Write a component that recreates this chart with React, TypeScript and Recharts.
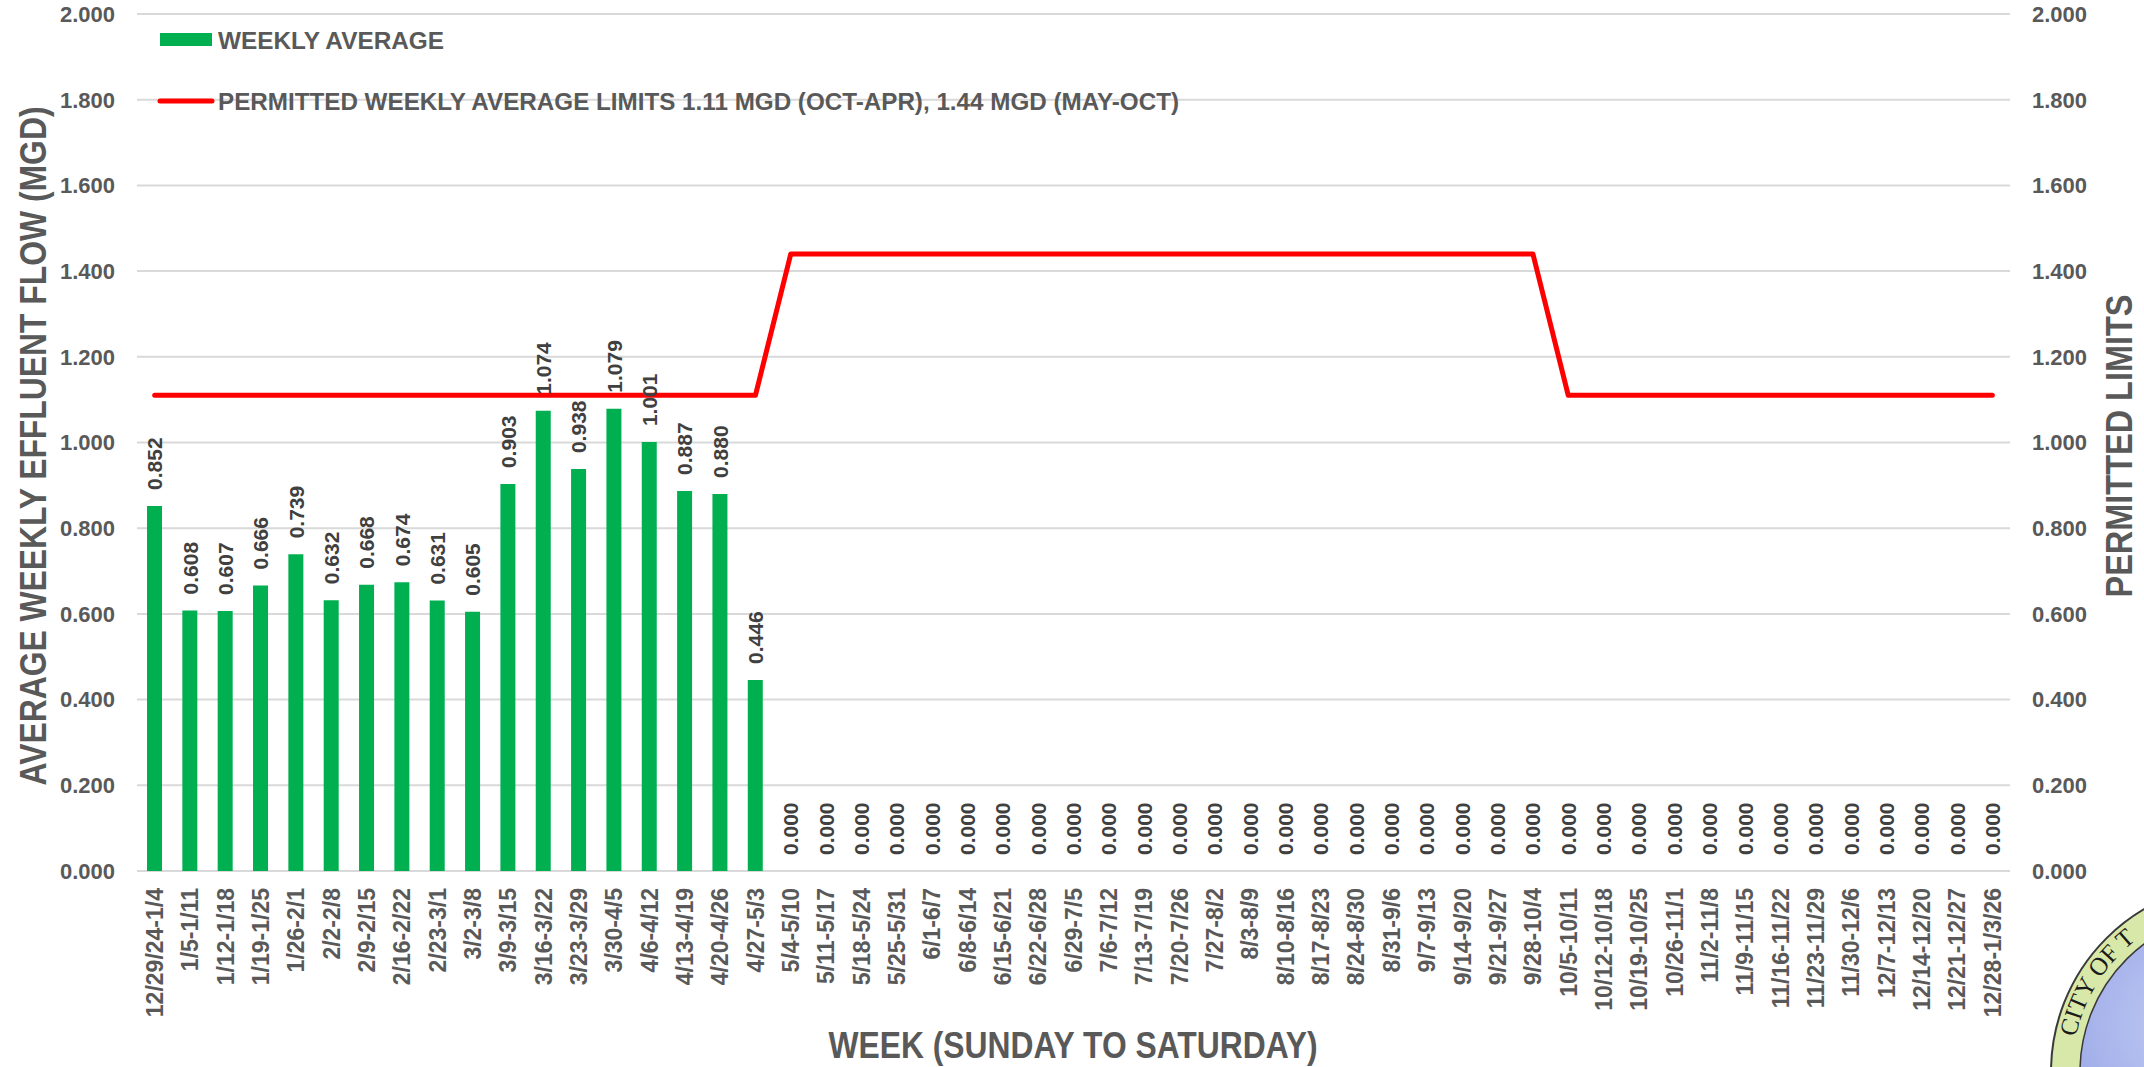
import React from "react";
import {
  ComposedChart,
  Bar,
  Line,
  XAxis,
  YAxis,
  CartesianGrid,
  LabelList,
} from "recharts";

const weeks = [
  "12/29/24-1/4", "1/5-1/11", "1/12-1/18", "1/19-1/25", "1/26-2/1", "2/2-2/8",
  "2/9-2/15", "2/16-2/22", "2/23-3/1", "3/2-3/8", "3/9-3/15", "3/16-3/22",
  "3/23-3/29", "3/30-4/5", "4/6-4/12", "4/13-4/19", "4/20-4/26", "4/27-5/3",
  "5/4-5/10", "5/11-5/17", "5/18-5/24", "5/25-5/31", "6/1-6/7", "6/8-6/14",
  "6/15-6/21", "6/22-6/28", "6/29-7/5", "7/6-7/12", "7/13-7/19", "7/20-7/26",
  "7/27-8/2", "8/3-8/9", "8/10-8/16", "8/17-8/23", "8/24-8/30", "8/31-9/6",
  "9/7-9/13", "9/14-9/20", "9/21-9/27", "9/28-10/4", "10/5-10/11", "10/12-10/18",
  "10/19-10/25", "10/26-11/1", "11/2-11/8", "11/9-11/15", "11/16-11/22",
  "11/23-11/29", "11/30-12/6", "12/7-12/13", "12/14-12/20", "12/21-12/27",
  "12/28-1/3/26",
];

const weeklyAverage = [
  0.852, 0.608, 0.607, 0.666, 0.739, 0.632, 0.668, 0.674, 0.631, 0.605,
  0.903, 1.074, 0.938, 1.079, 1.001, 0.887, 0.880, 0.446,
  0, 0, 0, 0, 0, 0, 0, 0, 0, 0,
  0, 0, 0, 0, 0, 0, 0, 0, 0, 0,
  0, 0, 0, 0, 0, 0, 0, 0, 0, 0,
  0, 0, 0, 0, 0,
];

const permittedLimits = [
  1.11, 1.11, 1.11, 1.11, 1.11, 1.11, 1.11, 1.11, 1.11, 1.11,
  1.11, 1.11, 1.11, 1.11, 1.11, 1.11, 1.11, 1.11,
  1.44, 1.44, 1.44, 1.44, 1.44, 1.44, 1.44, 1.44, 1.44, 1.44, 1.44,
  1.44, 1.44, 1.44, 1.44, 1.44, 1.44, 1.44, 1.44, 1.44, 1.44, 1.44,
  1.11, 1.11, 1.11, 1.11, 1.11, 1.11, 1.11, 1.11, 1.11, 1.11,
  1.11, 1.11, 1.11,
];

const yTicks = [0, 0.2, 0.4, 0.6, 0.8, 1.0, 1.2, 1.4, 1.6, 1.8, 2.0];

const legendItems = [
  "WEEKLY AVERAGE",
  "PERMITTED WEEKLY AVERAGE LIMITS 1.11 MGD (OCT-APR), 1.44 MGD (MAY-OCT)",
];

const data = weeks.map((w, i) => ({
  week: w,
  avg: weeklyAverage[i],
  limit: permittedLimits[i],
}));

const FONT = "'Liberation Sans', Arial, Helvetica, sans-serif";
const GREY = "#595959";
const GREEN = "#00B050";
const RED = "#FF0000";

const XTick = (props: any) => {
  const { x, y, payload } = props;
  return (
    <g transform={`translate(${x},${y})`}>
      <text
        transform="rotate(-90)"
        x={0}
        y={0}
        dy="0.36em"
        textAnchor="end"
        fontFamily={FONT}
        fontWeight="bold"
        fontSize={23}
        fill={GREY}
      >
        {payload.value}
      </text>
    </g>
  );
};

const PointLabel = (props: any) => {
  const { x, y, value } = props;
  if (x == null || y == null) return null;
  return (
    <text
      transform={`translate(${x},${y - 16}) rotate(-90)`}
      x={0}
      y={0}
      dy="0.36em"
      textAnchor="start"
      fontFamily={FONT}
      fontWeight="bold"
      fontSize={21}
      fill="#404040"
    >
      {Number(value).toFixed(3)}
    </text>
  );
};

export default function App() {
  return (
    <div
      style={{
        position: "absolute",
        left: 0,
        top: 0,
        width: 2144,
        height: 1067,
        background: "#ffffff",
        overflow: "hidden",
      }}
    >
      <ComposedChart
        width={2144}
        height={1067}
        data={data}
        margin={{ top: 14, right: 0, bottom: 0, left: 0 }}
      >
        <CartesianGrid
          vertical={false}
          stroke="#D9D9D9"
          strokeWidth={2}
          yAxisId="left"
        />
        <XAxis
          dataKey="week"
          interval={0}
          height={196}
          tick={<XTick />}
          tickLine={false}
          axisLine={false}
          tickSize={0}
          tickMargin={17}
        />
        <YAxis
          yAxisId="left"
          orientation="left"
          width={137}
          domain={[0, 2]}
          ticks={yTicks}
          tickFormatter={(v: number) => v.toFixed(3)}
          tickLine={false}
          axisLine={false}
          tickSize={0}
          tickMargin={22}
          tick={{ fill: GREY, fontSize: 22, fontWeight: "bold", fontFamily: FONT }}
        />
        <YAxis
          yAxisId="right"
          orientation="right"
          width={134}
          domain={[0, 2]}
          ticks={yTicks}
          tickFormatter={(v: number) => v.toFixed(3)}
          tickLine={false}
          axisLine={false}
          tickSize={0}
          tickMargin={22}
          tick={{ fill: GREY, fontSize: 22, fontWeight: "bold", fontFamily: FONT }}
        />
        <Line
          yAxisId="right"
          dataKey="limit"
          type="linear"
          stroke={RED}
          strokeWidth={5}
          strokeLinejoin="round"
          strokeLinecap="round"
          dot={false}
          activeDot={false}
          isAnimationActive={false}
        />
        <Bar
          yAxisId="left"
          dataKey="avg"
          fill={GREEN}
          barSize={15}
          isAnimationActive={false}
        />
        <Line
          yAxisId="left"
          dataKey="avg"
          type="linear"
          stroke="none"
          strokeWidth={0}
          dot={false}
          activeDot={false}
          legendType="none"
          isAnimationActive={false}
        >
          <LabelList dataKey="avg" content={<PointLabel />} />
        </Line>
      </ComposedChart>

      <svg
        width={2144}
        height={1067}
        style={{ position: "absolute", left: 0, top: 0, pointerEvents: "none" }}
      >
        {/* legend */}
        <rect x={160} y={33} width={52} height={13} fill={GREEN} />
        <text
          x={218}
          y={40}
          dy="0.36em"
          fontFamily={FONT}
          fontWeight="bold"
          fontSize={24}
          fill={GREY}
          textLength={226}
          lengthAdjust="spacingAndGlyphs"
        >
          {legendItems[0]}
        </text>
        <line
          x1={160}
          y1={101}
          x2={212}
          y2={101}
          stroke={RED}
          strokeWidth={5}
          strokeLinecap="round"
        />
        <text
          x={218}
          y={101}
          dy="0.36em"
          fontFamily={FONT}
          fontWeight="bold"
          fontSize={24}
          fill={GREY}
          textLength={961}
          lengthAdjust="spacingAndGlyphs"
        >
          {legendItems[1]}
        </text>

        {/* axis titles */}
        <text
          transform="translate(33,446) rotate(-90)"
          x={0}
          y={0}
          dy="0.36em"
          textAnchor="middle"
          fontFamily={FONT}
          fontWeight="bold"
          fontSize={36}
          fill={GREY}
          textLength={679}
          lengthAdjust="spacingAndGlyphs"
        >
          AVERAGE WEEKLY EFFLUENT FLOW (MGD)
        </text>
        <text
          transform="translate(2119,446) rotate(-90)"
          x={0}
          y={0}
          dy="0.36em"
          textAnchor="middle"
          fontFamily={FONT}
          fontWeight="bold"
          fontSize={37}
          fill={GREY}
          textLength={303}
          lengthAdjust="spacingAndGlyphs"
        >
          PERMITTED LIMITS
        </text>
        <text
          x={1073}
          y={1058}
          textAnchor="middle"
          fontFamily={FONT}
          fontWeight="bold"
          fontSize={37}
          fill={GREY}
          textLength={489}
          lengthAdjust="spacingAndGlyphs"
        >
          WEEK (SUNDAY TO SATURDAY)
        </text>

        {/* city seal (partially visible) */}
        <defs>
          <radialGradient id="sealBlue" cx="0.35" cy="0.35" r="0.75">
            <stop offset="0%" stopColor="#c3ccf5" />
            <stop offset="100%" stopColor="#7f90dc" />
          </radialGradient>
          <path
            id="sealArc"
            d="M 2075.7 1037.1 A 168 168 0 0 1 2297.5 914.1"
            fill="none"
          />
        </defs>
        <circle cx={2240} cy={1072} r={189} fill="#d8e8a8" stroke="#3a3a3a" strokeWidth={2} />
        <circle cx={2240} cy={1072} r={160} fill="url(#sealBlue)" stroke="#3a3a3a" strokeWidth={1.5} />
        <text fontFamily="'Liberation Serif', 'DejaVu Serif', serif" fontSize={25} fill="#1a1a1a">
          <textPath href="#sealArc">CITY OF T</textPath>
        </text>
      </svg>
    </div>
  );
}
